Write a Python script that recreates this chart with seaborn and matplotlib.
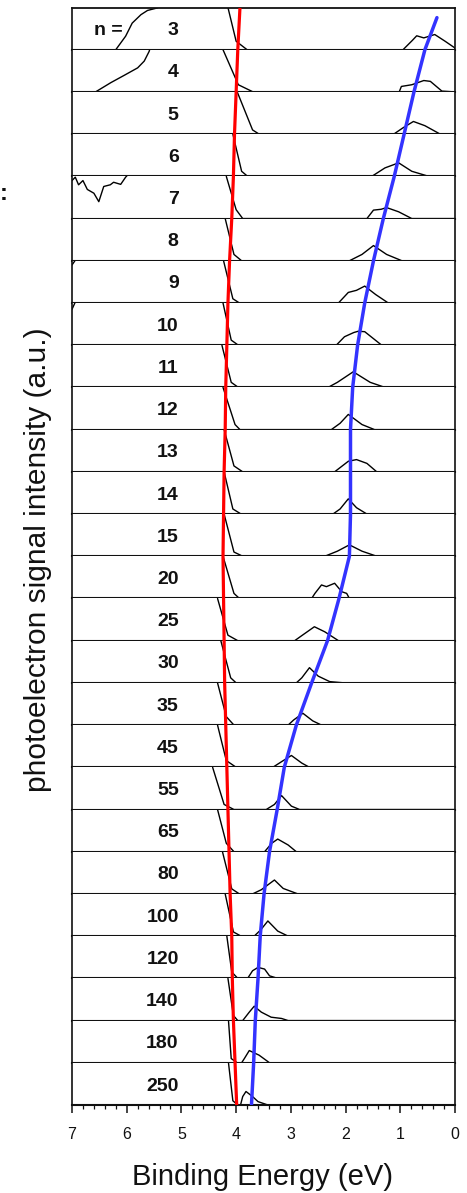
import numpy as np
import matplotlib
matplotlib.use("Agg")
import matplotlib.pyplot as plt
from matplotlib.ticker import MultipleLocator
import seaborn as sns

# ---------------- data ----------------
cluster_sizes = ['3', '4', '5', '6', '7', '8', '9', '10', '11', '12', '13', '14', '15',
                 '20', '25', '30', '35', '45', '55', '65', '80', '100', '120', '140', '180', '250']

# threshold edge of each spectrum (binding energy in eV, height as fraction of panel)
edge_top = [4.15, 4.24, 3.98, 4.06, 4.18, 4.20, 4.23, 4.24, 4.26, 4.24, 4.22, 4.22, 4.22,
            4.24, 4.34, 4.28, 4.34, 4.34, 4.43, 4.34, 4.25, 4.20, 4.17, 4.15, 4.14, 4.14]
edge_mid = [4.00, 3.96, 3.70, 3.90, 4.00, 4.04, 4.06, 4.09, 4.09, 4.02, 4.04, 4.06, 4.04,
            4.04, 4.15, 4.10, 4.18, 4.18, 4.22, 4.18, 4.08, 4.05, 4.08, 4.05, 4.09, 4.06]
edge_mid_h = [0.20, 0.17, 0.10, 0.12, 0.21, 0.15, 0.10, 0.12, 0.12, 0.12, 0.14, 0.12, 0.10,
              0.12, 0.13, 0.12, 0.20, 0.16, 0.12, 0.20, 0.12, 0.10, 0.15, 0.12, 0.10, 0.10]
edge_foot = [3.80, 3.69, 3.58, 3.79, 3.88, 3.90, 3.94, 3.96, 3.96, 3.93, 3.88, 3.91, 3.88,
             3.94, 3.97, 4.00, 4.04, 4.00, 4.04, 4.04, 3.94, 3.91, 3.97, 3.97, 3.98, 3.97]

# low-energy photodetachment peak of each spectrum
peak_energy = [
    [0.95, 0.78, 0.70, 0.57, 0.37, 0.18, 0.00],
    [1.02, 0.98, 0.79, 0.57, 0.45, 0.24],
    [1.12, 0.95, 0.76, 0.55, 0.27],
    [1.52, 1.28, 1.03, 0.79, 0.48],
    [1.61, 1.49, 1.35, 1.25, 1.03, 0.79],
    [1.93, 1.70, 1.49, 1.25, 0.97],
    [2.13, 1.95, 1.80, 1.65, 1.45, 1.22],
    [2.17, 2.02, 1.85, 1.77, 1.65, 1.34],
    [2.32, 2.15, 1.86, 1.55, 1.28],
    [2.26, 2.10, 1.95, 1.70, 1.47],
    [2.20, 2.10, 1.95, 1.80, 1.61, 1.43],
    [2.23, 2.10, 1.95, 1.80, 1.61],
    [2.38, 2.15, 1.93, 1.70, 1.43],
    [2.62, 2.56, 2.44, 2.35, 2.20, 2.07, 1.98, 1.93],
    [2.93, 2.80, 2.57, 2.38, 2.13],
    [2.90, 2.80, 2.66, 2.50, 2.29, 2.02],
    [3.05, 2.95, 2.78, 2.60, 2.44],
    [3.33, 3.15, 2.99, 2.80, 2.66],
    [3.45, 3.30, 3.17, 2.99, 2.84],
    [3.48, 3.35, 3.24, 3.05, 2.90],
    [3.70, 3.54, 3.30, 3.14, 2.87],
    [3.67, 3.55, 3.42, 3.24, 3.05],
    [3.79, 3.70, 3.60, 3.48, 3.39, 3.24],
    [3.88, 3.76, 3.67, 3.54, 3.36, 3.17, 3.05],
    [3.90, 3.85, 3.76, 3.58, 3.39],
    [3.92, 3.88, 3.82, 3.70, 3.60, 3.42],
]
peak_height = [
    [0.00, 0.22, 0.33, 0.28, 0.36, 0.20, 0.04],
    [0.00, 0.13, 0.17, 0.27, 0.25, 0.02],
    [0.00, 0.15, 0.30, 0.20, 0.00],
    [0.00, 0.20, 0.32, 0.12, 0.00],
    [0.00, 0.20, 0.22, 0.26, 0.16, 0.00],
    [0.00, 0.15, 0.36, 0.15, 0.00],
    [0.00, 0.25, 0.30, 0.40, 0.20, 0.00],
    [0.00, 0.20, 0.30, 0.33, 0.32, 0.00],
    [0.00, 0.12, 0.37, 0.12, 0.00],
    [0.00, 0.15, 0.36, 0.12, 0.00],
    [0.00, 0.10, 0.25, 0.29, 0.20, 0.00],
    [0.00, 0.12, 0.36, 0.15, 0.00],
    [0.00, 0.12, 0.27, 0.12, 0.00],
    [0.00, 0.12, 0.32, 0.28, 0.36, 0.16, 0.12, 0.00],
    [0.00, 0.12, 0.33, 0.21, 0.00],
    [0.00, 0.12, 0.36, 0.16, 0.03, 0.00],
    [0.00, 0.12, 0.28, 0.10, 0.00],
    [0.00, 0.15, 0.28, 0.10, 0.00],
    [0.00, 0.12, 0.33, 0.08, 0.00],
    [0.00, 0.20, 0.30, 0.16, 0.00],
    [0.00, 0.10, 0.33, 0.13, 0.00],
    [0.00, 0.15, 0.36, 0.12, 0.00],
    [0.00, 0.18, 0.26, 0.22, 0.06, 0.00],
    [0.00, 0.20, 0.34, 0.20, 0.08, 0.05, 0.00],
    [0.00, 0.10, 0.29, 0.18, 0.00],
    [0.00, 0.20, 0.32, 0.20, 0.08, 0.00],
]

# high-energy tails that come back into a few panels
tail_energy = {
    '3': [6.20, 6.02, 5.90, 5.74, 5.62, 5.44, 5.40],
    '4': [6.57, 6.29, 6.05, 5.80, 5.68, 5.59, 5.57],
    '7': [7.00, 6.94, 6.88, 6.80, 6.72, 6.60, 6.51, 6.42, 6.30, 6.24, 6.11, 6.02, 5.97],
    '9': [7.00, 6.92],
    '10': [7.00, 6.93],
}
tail_height = {
    '3': [0.00, 0.32, 0.63, 0.83, 0.93, 0.99, 1.05],
    '4': [0.00, 0.22, 0.39, 0.57, 0.73, 0.96, 1.05],
    '7': [0.90, 0.98, 0.80, 0.90, 0.69, 0.60, 0.40, 0.76, 0.80, 0.86, 0.81, 0.98, 1.05],
    '9': [0.90, 1.05],
    '10': [0.85, 1.05],
}

# guide lines, sampled at the panel boundaries (top to bottom)
red_energy = [3.93, 3.97, 4.00, 4.03, 4.05, 4.08, 4.12, 4.15, 4.17, 4.19, 4.20, 4.22, 4.23, 4.24,
              4.23, 4.22, 4.21, 4.19, 4.17, 4.15, 4.13, 4.11, 4.08, 4.07, 4.05, 4.02, 3.99]
blue_energy = [0.33, 0.55, 0.75, 0.93, 1.11, 1.31, 1.49, 1.65, 1.78, 1.87, 1.91, 1.91, 1.91, 1.93,
               2.12, 2.33, 2.62, 2.90, 3.12, 3.25, 3.39, 3.49, 3.56, 3.60, 3.65, 3.68, 3.72]

energy_ticks = [7, 6, 5, 4, 3, 2, 1, 0]

# ---------------- style ----------------
sns.set_theme(style="ticks")
plt.rcParams['font.family'] = ['Liberation Sans', 'DejaVu Sans']

W, H = 467, 1193
fig = plt.figure(figsize=(W / 100, H / 100), dpi=100)
left, right = 72 / W, 455 / W
bottom, top = 1 - 1105 / H, 1 - 7.5 / H
npan = len(cluster_sizes)
axes = fig.subplots(npan, 1, sharex=True, gridspec_kw=dict(hspace=0))
fig.subplots_adjust(left=left, right=right, bottom=bottom, top=top)

label_x = 5.05
for i, (ax, lab) in enumerate(zip(axes, cluster_sizes)):
    xs = [edge_top[i], edge_mid[i], edge_foot[i]] + list(peak_energy[i]) + [0.0]
    ys = [1.0, edge_mid_h[i], 0.0] + list(peak_height[i]) + [0.0]
    sns.lineplot(x=xs, y=ys, ax=ax, sort=False, estimator=None,
                 color='black', linewidth=1.0)
    if lab in tail_energy:
        sns.lineplot(x=tail_energy[lab], y=tail_height[lab], ax=ax, sort=False,
                     estimator=None, color='black', linewidth=1.0)
    ax.set_xlim(7, 0)
    ax.set_ylim(0, 1)
    ax.set_yticks([])
    ax.set_xlabel('')
    ax.set_ylabel('')
    ax.set_facecolor('white')
    for s in ['left', 'right', 'bottom', 'top']:
        ax.spines[s].set_color('#111111')
    ax.spines['bottom'].set_linewidth(1.5)
    ax.spines['top'].set_linewidth(1.3)
    ax.spines['left'].set_linewidth(1.2)
    ax.spines['right'].set_linewidth(1.2)
    ax.spines['top'].set_visible(i == 0)
    ax.text(label_x, 0.45, lab, ha='right', va='center', fontsize=14,
            fontweight='bold', color='#111111')
    if i == 0:
        ax.text(6.6, 0.45, 'n =', ha='left', va='center', fontsize=14,
                fontweight='bold', color='#111111')
    if i < npan - 1:
        ax.tick_params(axis='x', which='both', bottom=False, labelbottom=False)

axb = axes[-1]
axb.set_xticks(energy_ticks)
axb.set_xticklabels([str(t) for t in energy_ticks])
axb.xaxis.set_minor_locator(MultipleLocator(0.2))
axb.tick_params(axis='x', which='major', direction='out', length=5.5, width=1.1,
                pad=10.5, labelsize=11.5, colors='#111111')
axb.tick_params(axis='x', which='minor', direction='out', length=2.8, width=0.9,
                colors='#111111')

# overlay for the guide lines spanning all panels
ov = fig.add_axes([left, bottom, right - left, top - bottom])
ov.patch.set_alpha(0)
levels = npan - np.arange(npan + 1, dtype=float)
blue_levels = levels.copy()
blue_levels[0] = npan - 0.24
sns.lineplot(x=red_energy, y=levels, ax=ov, sort=False, estimator=None,
             color='#ff0000', linewidth=2.3)
sns.lineplot(x=blue_energy, y=blue_levels, ax=ov, sort=False, estimator=None,
             color='#3333ff', linewidth=2.5)
ov.set_xlim(7, 0)
ov.set_ylim(0, npan)
ov.set_axis_off()

fig.text(38 / W, 1 - 560 / H, 'photoelectron signal intensity (a.u.)', rotation=90,
         ha='center', va='center', fontsize=21.5, color='#111111')
fig.text(262 / W, 1 - 1185 / H, 'Binding Energy (eV)', ha='center', va='baseline',
         fontsize=21, color='#111111')
fig.text(0.0, 1 - 193 / H, ':', ha='left', va='center', fontsize=17, fontweight='bold',
         color='#111111')

fig.savefig('out.png', dpi=100)
